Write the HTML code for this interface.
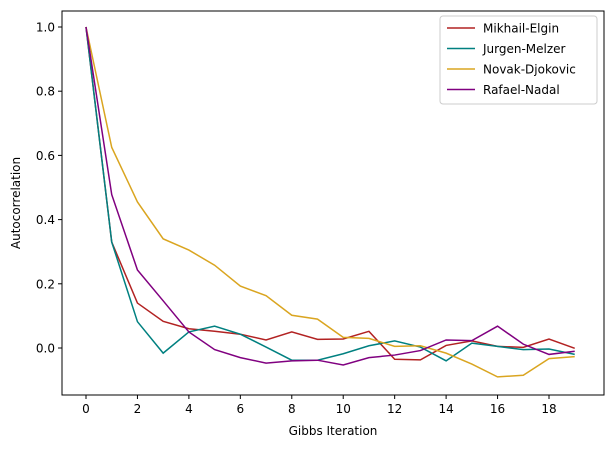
<!DOCTYPE html>
<html><head><meta charset="utf-8"><style>body{margin:0;background:#fff}svg{font-family:"DejaVu Sans","Liberation Sans",sans-serif}</style></head>
<body>
<svg id="chart" width="613" height="448" xmlns="http://www.w3.org/2000/svg"></svg>
<script>
const iterations=[0,1,2,3,4,5,6,7,8,9,10,11,12,13,14,15,16,17,18,19];
const mikhail=[1,0.33,0.14,0.083,0.06,0.052,0.043,0.025,0.05,0.027,0.028,0.052,-0.035,-0.037,0.008,0.022,0.005,0.002,0.028,-0.001];
const jurgen=[1,0.33,0.082,-0.016,0.05,0.068,0.043,0.003,-0.038,-0.038,-0.018,0.007,0.022,0.003,-0.04,0.015,0.005,-0.005,-0.003,-0.02];
const novak=[1,0.625,0.455,0.34,0.305,0.258,0.193,0.163,0.102,0.09,0.033,0.03,0.005,0.007,-0.016,-0.05,-0.09,-0.085,-0.033,-0.027];
const rafael=[1,0.478,0.243,0.147,0.05,-0.005,-0.03,-0.047,-0.04,-0.038,-0.053,-0.03,-0.022,-0.008,0.025,0.023,0.068,0.012,-0.02,-0.01];
const seriesNames=["Mikhail-Elgin","Jurgen-Melzer","Novak-Djokovic","Rafael-Nadal"];
const xTicks=[0,2,4,6,8,10,12,14,16,18];
const yTicks=[0,0.2,0.4,0.6,0.8,1.0];
const colors=["#b22222","#008080","#daa520","#800080"];
const svg=document.getElementById('chart');const NS="http://www.w3.org/2000/svg";
const L=62,R=604,T=11,B=395;
const xs=v=>86+v*(549-86)/18;
const ys=v=>348-v*(348-27);
function mk(t,a,p){const e=document.createElementNS(NS,t);for(const k in a)e.setAttribute(k,a[k]);(p||svg).appendChild(e);return e;}
const frame=mk('rect',{x:L,y:T,width:R-L,height:B-T,fill:'none',stroke:'#000','stroke-width':1});


xTicks.forEach(v=>{const l=mk('line',{x1:xs(v),x2:xs(v),y1:B,y2:B+4,stroke:'#000'});


const t=mk('text',{x:xs(v),y:B+18,'text-anchor':'middle','font-size':12});t.textContent=v;

});
yTicks.forEach(v=>{const l=mk('line',{x1:L-4,x2:L,y1:ys(v),y2:ys(v),stroke:'#000'});


const t=mk('text',{x:L-7,y:ys(v)+4.5,'text-anchor':'end','font-size':12});t.textContent=v.toFixed(1);

});
const xt=mk('text',{x:(L+R)/2,y:435,'text-anchor':'middle','font-size':12});xt.textContent='Gibbs Iteration';


const yt=mk('text',{x:20,y:(T+B)/2,'text-anchor':'middle','font-size':12,transform:`rotate(-90 20 ${(T+B)/2})`});yt.textContent='Autocorrelation';


[mikhail,jurgen,novak,rafael].forEach((s,i)=>{const p=mk('polyline',{points:s.map((v,j)=>xs(iterations[j])+','+ys(v)).join(' '),fill:'none',stroke:colors[i],'stroke-width':1.5});

});
const lg=mk('rect',{x:440,y:16,width:157,height:88,fill:'#fff','fill-opacity':0.8,stroke:'#ccc',rx:3});


seriesNames.forEach((n,i)=>{const y=28+i*20.5;const l=mk('line',{x1:447,x2:475,y1:y,y2:y,stroke:colors[i],'stroke-width':1.5});


const t=mk('text',{x:483,y:y+4.5,'font-size':12});t.textContent=n;

});
</script>
</body></html>
